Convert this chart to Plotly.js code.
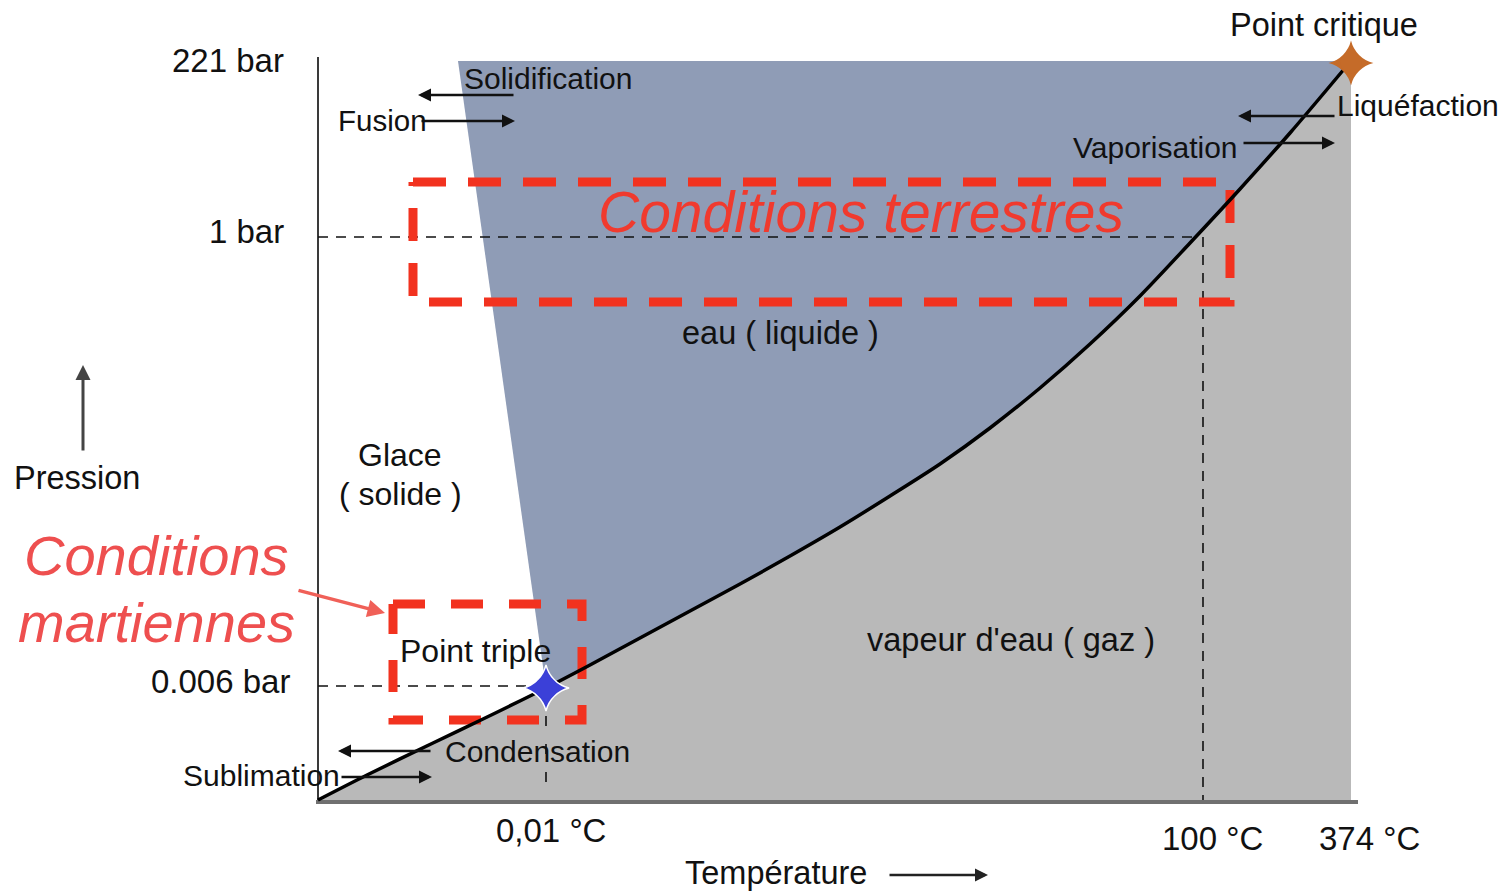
<!DOCTYPE html>
<html>
<head>
<meta charset="utf-8">
<script src="https://cdn.plot.ly/plotly-3.0.1.min.js"></script>
<style>html,body{margin:0;padding:0;background:#fff;}#chart{width:1502px;height:891px;}</style>
</head>
<body>
<div id="chart"></div>
<script>
// Schematic phase diagram of water (schematic units: x = temperature position, y = pressure position, y grows downward)
const curveT = [318, 367, 433, 483, 546, 590, 640, 690, 740, 790, 840, 890, 940, 990, 1040, 1090, 1140, 1190, 1240, 1290, 1345];
const curveP = [800, 775, 743, 719, 688, 665, 638, 611, 584, 556, 527, 496, 464, 428, 388, 344, 296, 243, 189, 133, 68];
const meltT = [458, 546];
const meltP = [61, 688];
const plotLeft = 318, plotBottom = 800, plotTop = 61, plotRight = 1351;

const pressLabels = ['221 bar', '1 bar', '0.006 bar'];
const pressPos = [60, 237, 686];
const tempLabels = ['0,01 °C', '100 °C', '374 °C'];
const tempPos = [546, 1203, 1351];

const tripleT = [546], tripleP = [688];
const criticalT = [1351], criticalP = [63];

// Vapour region (below curve)
const gasX = curveT.concat([plotRight, plotRight, plotLeft]);
const gasY = curveP.concat([plotTop + 1, plotBottom, plotBottom]);
// Liquid region (between melting line and curve)
const iTriple = curveT.indexOf(tripleT[0]);
const liqX = [meltT[0]].concat(curveT.slice(iTriple), [plotRight, meltT[0]]);
const liqY = [meltP[0]].concat(curveP.slice(iTriple), [plotTop, meltP[0]]);

const FONT = 'Liberation Sans, Arial, Helvetica, sans-serif';
const TXT = '#111111';

const traces = [
  {x: gasX, y: gasY, fill: 'toself', fillcolor: '#b9b9b9', mode: 'lines', line: {width: 0}, hoverinfo: 'skip'},
  {x: liqX, y: liqY, fill: 'toself', fillcolor: '#8f9cb6', mode: 'lines', line: {width: 0}, hoverinfo: 'skip'},
  // axes
  {x: [plotLeft, plotLeft], y: [57, 803], mode: 'lines', line: {color: '#3a3a3a', width: 2}, hoverinfo: 'skip'},
  {x: [plotLeft - 2, 1358], y: [802, 802], mode: 'lines', line: {color: '#707070', width: 4}, hoverinfo: 'skip'},
  // dashed reference lines
  {x: [plotLeft, 1200], y: [pressPos[1], pressPos[1]], mode: 'lines', line: {color: '#111', width: 1.6, dash: '10px,8px'}, hoverinfo: 'skip'},
  {x: [tempPos[1], tempPos[1]], y: [pressPos[1], plotBottom], mode: 'lines', line: {color: '#111', width: 1.6, dash: '10px,8px'}, hoverinfo: 'skip'},
  {x: [plotLeft, tripleT[0]], y: [pressPos[2], pressPos[2]], mode: 'lines', line: {color: '#111', width: 1.6, dash: '10px,8px'}, hoverinfo: 'skip'},
  {x: [tripleT[0], tripleT[0]], y: [tripleP[0], plotBottom], mode: 'lines', line: {color: '#111', width: 1.6, dash: '10px,18px'}, hoverinfo: 'skip'},
  // red dashed boxes
  {x: [413, 1230, 1230, 413, 413], y: [182, 182, 302, 302, 182], mode: 'lines', line: {color: '#f2321f', width: 9, dash: '33px,22px'}, hoverinfo: 'skip'},
  {x: [393, 582, 582, 393, 393], y: [604, 604, 720, 720, 604], mode: 'lines', line: {color: '#f2321f', width: 9, dash: '32px,26px'}, hoverinfo: 'skip'},
  // vaporisation / sublimation curve
  {x: curveT, y: curveP, mode: 'lines', line: {color: '#000', width: 3.5, shape: 'spline', smoothing: 0.8}, hoverinfo: 'skip'},
  // special points (rounded four-point stars: star-diamond + disc)
  {x: tripleT, y: tripleP, mode: 'markers', marker: {symbol: 'star-diamond', size: 33, color: '#3b40d8', line: {color: '#ffffff', width: 1.5}}, hoverinfo: 'skip'},
  {x: tripleT, y: tripleP, mode: 'markers', marker: {symbol: 'circle', size: 22, color: '#3b40d8', line: {width: 0}}, hoverinfo: 'skip'},
  {x: criticalT, y: criticalP, mode: 'markers', marker: {symbol: 'star-diamond', size: 32, color: '#c56b29', line: {width: 0}}, hoverinfo: 'skip'},
  {x: criticalT, y: criticalP, mode: 'markers', marker: {symbol: 'circle', size: 21, color: '#c56b29', line: {width: 0}}, hoverinfo: 'skip'}
];

function label(text, x, y, anchor, size, color) {
  return {text: text, x: x, y: y, xref: 'x', yref: 'y', xanchor: anchor, yanchor: 'middle', showarrow: false,
          font: {family: FONT, size: size || 32, color: color || TXT}};
}
function arrow(x0, y0, x1, y1, color, width) {
  return {text: '', x: x1, y: y1, ax: x0, ay: y0, xref: 'x', yref: 'y', axref: 'x', ayref: 'y', showarrow: true,
          arrowhead: 2, arrowsize: 1, arrowwidth: width || 2.6, arrowcolor: color || '#111', standoff: 0, startstandoff: 0};
}

const annotations = [
  label(pressLabels[0], 286, pressPos[0], 'right', 33),
  label(pressLabels[1], 286, 231, 'right', 33),
  label(pressLabels[2], 292, 681, 'right', 33),
  label(tempLabels[0], 551, 830, 'center', 33),
  label(tempLabels[1], 1212, 838, 'center', 33),
  label(tempLabels[2], 1369, 838, 'center', 33),
  label('Pression', 12, 478, 'left', 32.5),
  label('Température', 683, 873, 'left', 32.5),
  label('Glace', 400, 455, 'center', 32),
  label('( solide )', 400, 494, 'center', 32),
  label('eau ( liquide )', 780, 333, 'center', 32.5),
  label("vapeur d'eau ( gaz )", 1011, 640, 'center', 32.5),
  label('Point triple', 398, 651, 'left', 32),
  label('Condensation', 443, 751, 'left', 30),
  label('Sublimation', 181, 775, 'left', 30),
  label('Solidification', 462, 78, 'left', 30),
  label('Fusion', 336, 120, 'left', 29.5),
  label('Liquéfaction', 1335, 105, 'left', 30),
  label('Vaporisation', 1071, 147, 'left', 30),
  label('Point critique', 1324, 25, 'center', 32.5),
  label('<i>Conditions terrestres</i>', 861, 212, 'center', 57, '#f03a2e'),
  label('<i>Conditions</i>', 156, 555, 'center', 56, '#ee4f4f'),
  label('<i>martiennes</i>', 156, 622, 'center', 56, '#ee4f4f'),
  arrow(515, 95, 418, 95),
  arrow(420, 121, 515, 121),
  arrow(1336, 116, 1238, 116),
  arrow(1242, 143, 1335, 143),
  arrow(432, 751, 338, 751),
  arrow(340, 777, 432, 777),
  arrow(83, 452, 83, 365, '#444', 3),
  arrow(888, 875, 988, 875, '#222', 2.6),
  arrow(297, 590, 385, 613, '#f06058', 3.5)
];

const layout = {
  width: 1502, height: 891,
  margin: {l: 0, r: 0, t: 0, b: 0},
  paper_bgcolor: '#ffffff', plot_bgcolor: '#ffffff',
  showlegend: false,
  xaxis: {range: [0, 1502], visible: false, fixedrange: true},
  yaxis: {range: [891, 0], visible: false, fixedrange: true},
  annotations: annotations
};

Plotly.newPlot('chart', traces, layout, {staticPlot: true, displayModeBar: false});
</script>
</body>
</html>
